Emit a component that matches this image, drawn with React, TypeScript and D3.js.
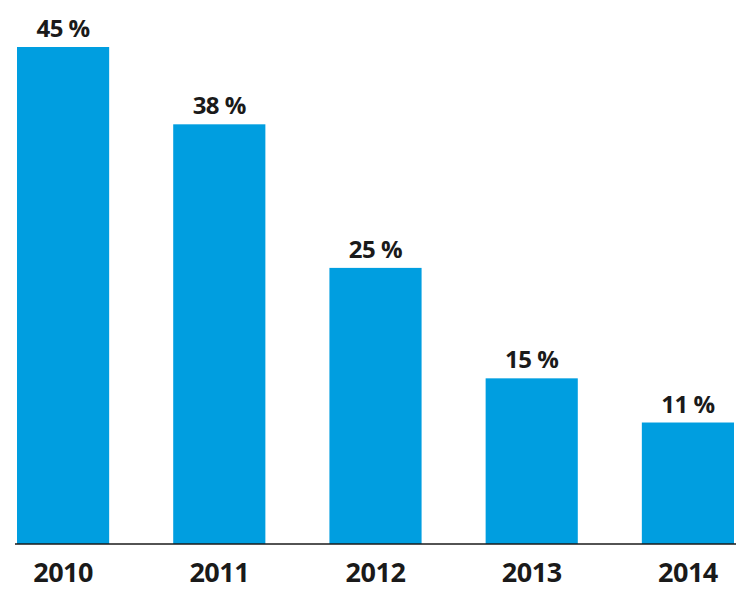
import React from "react";
import * as d3 from "d3";

const years = ["2010", "2011", "2012", "2013", "2014"];
const values = [45, 38, 25, 15, 11];

export default function App() {
  const W = 750, H = 602;
  const x = d3.scaleBand<string>().domain(years).range([17, 734]).paddingInner(0.41).paddingOuter(0);
  const y = d3.scaleLinear().domain([0, 45]).range([544, 47]);
  const font = "'Open Sans', sans-serif";
  return (
    <svg width={W} height={H} style={{ position: "absolute", left: 0, top: 0 }}>
      <rect width={W} height={H} fill="#fff" />
      {years.map((yr, i) => (
        <g key={yr}>
          <rect x={x(yr)} y={y(values[i])} width={x.bandwidth()} height={y(0) - y(values[i])} fill="#009ee0" />
          <text x={x(yr)! + x.bandwidth() / 2} y={y(values[i]) - 10} textAnchor="middle" fontFamily={font} fontWeight={700} fontSize={24} fill="#1a1a1a" letterSpacing={-0.5}>
            {values[i]} %
          </text>
          <text x={x(yr)! + x.bandwidth() / 2} y={582} textAnchor="middle" fontFamily={font} fontWeight={700} fontSize={27} fill="#1a1a1a" letterSpacing={-0.5}>
            {yr}
          </text>
        </g>
      ))}
      <line x1={15} x2={736} y1={y(0)} y2={y(0)} stroke="#1a1a1a" strokeWidth={1.5} />
    </svg>
  );
}
